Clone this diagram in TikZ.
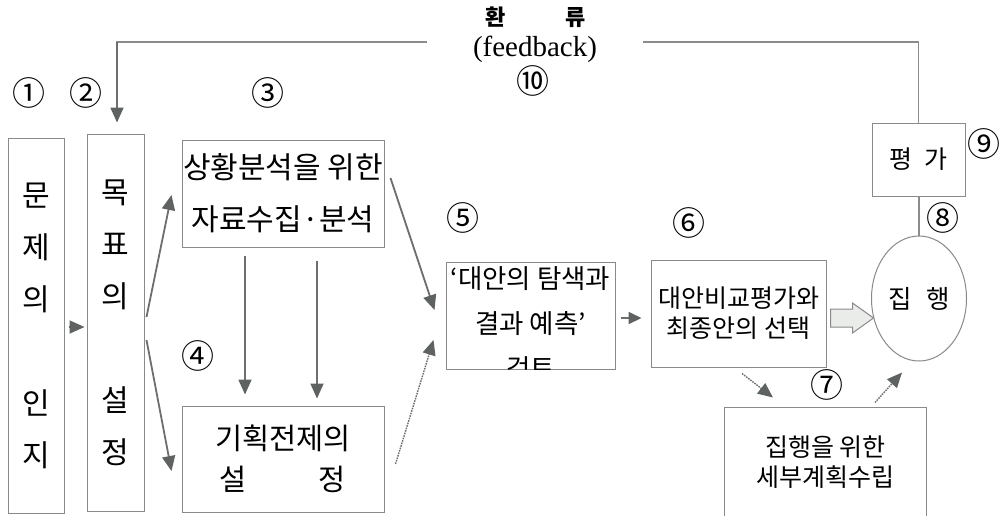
\documentclass[tikz,border=0pt]{standalone}
\usepackage{fontspec}
\setmainfont{Liberation Serif}
\newfontfamily\kr{Noto Sans CJK KR}
\usetikzlibrary{arrows.meta,shapes.geometric,calc}
\definecolor{bordc}{HTML}{8A8A8A}
\definecolor{arrc}{HTML}{6C6F6D}
\definecolor{arrh}{HTML}{5E6260}
\definecolor{fbc}{HTML}{8C8C8C}
\definecolor{blockfill}{HTML}{EAECEA}
\begin{document}
\begin{tikzpicture}[x=1pt,y=-1pt,
  box/.style={draw=bordc,line width=1pt,inner sep=0pt,align=center},
  tip/.style={-{Triangle[length=15pt,width=13pt,color=arrh,fill=arrh]}},
  arr/.style={draw=arrc,line width=1.8pt,tip},
  darr/.style={draw=arrc,line width=1.4pt,dash pattern=on 1.6pt off 1pt,tip},
  fbline/.style={draw=fbc,line width=1.2pt},
  num/.style={font=\kr\fontsize{33}{33}\selectfont,inner sep=0pt},
  big/.style={font=\kr\fontsize{30}{52}\selectfont},
  mid/.style={font=\kr\fontsize{25}{30}\selectfont}]
\useasboundingbox[fill=white] (0,0) rectangle (999,515);

% boxes
\node[box,big,minimum width=56,minimum height=375] (b1) at (36,325.5) {문\\제\\의\\\mbox{}\\인\\지};
\node[box,big,minimum width=57,minimum height=377] (b2) at (115.5,322.5) {목\\표\\의\\\mbox{}\\설\\정};
\node[box,font=\kr\fontsize{30}{52}\selectfont,minimum width=202,minimum height=107] (b3) at (283,193.5) {상황분석을 위한\\자료수집·분석};
\node[box,font=\kr\fontsize{29.5}{41}\selectfont,minimum width=202,minimum height=106] (b4) at (283,459) {기획전제의\\설\hspace{72pt}정};
\node[box,minimum width=169,minimum height=107] (b5) at (530.5,315.5) {};
\begin{scope}
  \clip (b5.south west) rectangle (b5.north east);
  \node[align=center,font=\kr\fontsize{26.5}{45}\selectfont,inner sep=0pt] (t5) at (530.5,323) {‘대안의 탐색과\\결과 예측’\\검토};
\end{scope}
\node[box,mid,minimum width=175,minimum height=107] (b6) at (738.5,313.5) {대안비교평가와\\최종안의 선택};
\node[box,draw=none,mid,minimum width=201,minimum height=108] (b7) at (825.5,462) {집행을 위한\\세부계획수립};
\draw[draw=bordc,line width=1pt] (b7.south west) -- (b7.north west) -- (b7.north east) -- (b7.south east);
\node[ellipse,draw=bordc,line width=1pt,inner sep=0pt,minimum width=95,minimum height=125,font=\kr\fontsize{25.5}{25}\selectfont] (e) at (919,298.5) {집\hspace{14pt}행};
\node[box,font=\kr\fontsize{25}{25}\selectfont,minimum width=93,minimum height=73] (b9) at (918.5,159.5) {평\hspace{12pt}가};

% title
\node[font=\kr\bfseries\fontsize{22}{22}\selectfont,inner sep=0pt] (fbt) at (535.5,17) {환\hspace{60pt}류};
\node[font=\fontsize{29}{29}\selectfont,inner sep=0pt] (fbe) at (535,49) {(feedback)};
\node[num] (n10) at (533,81) {⑩};

% numbers
\node[num] (n1) at (29,93) {①};
\node[num] (n2) at (86,93) {②};
\node[num] (n3) at (268,93) {③};
\node[num] (n4) at (198,356) {④};
\node[num] (n5) at (463,218) {⑤};
\node[num] (n6) at (689,223) {⑥};
\node[num] (n7) at (827,385) {⑦};
\node[num] (n8) at (943,218) {⑧};
\node[num] (n9) at (984,144) {⑨};

% feedback loop
\coordinate (fbR) at (643,42);
\coordinate (fbL) at (427,42);
\draw[fbline] (b9.north) |- (fbR);
\draw[fbline] (fbL) -- (fbL -| b2.north);
\draw[arr] ([xshift=1.5pt]fbL -| b2.north) -- ([xshift=1.5pt,yshift=11pt]b2.north);

% connectors
\draw[arr,shorten <=4pt,shorten >=2pt] ([yshift=-1.5pt]b1.east) -- ([yshift=-1.5pt]b1.east -| b2.west);
\draw[arr] ([xshift=2pt,yshift=5.5pt]b2.east) -- ([xshift=-10pt,yshift=-1.5pt]b3.west);
\draw[arr] ([xshift=2pt,yshift=-17.5pt]b2.east) -- ([xshift=-10pt,yshift=-12pt]b4.west);
\draw[arr] ([xshift=-38pt,yshift=-8pt]b3.south) -- ([xshift=-38pt,yshift=11pt]b4.north);
\draw[arr] ([xshift=34pt,yshift=-13pt]b3.south) -- ([xshift=34pt,yshift=7pt]b4.north);
\draw[arr] ([xshift=6pt,yshift=15.5pt]b3.east) -- ([xshift=-11pt,yshift=5.5pt]b5.west);
\draw[darr] ([xshift=11pt,yshift=-5pt]b4.east) -- ([xshift=-12pt,yshift=-24.5pt]b5.west);
\draw[draw=arrc,line width=1.8pt,-{Triangle[length=13pt,width=12pt,color=arrh,fill=arrh]}] ([xshift=5pt,yshift=-2.5pt]b5.east) -- ([xshift=-9pt,yshift=-4.5pt]b6.west);
\draw[darr] ([xshift=3.5pt,yshift=-6pt]b6.south) -- ([xshift=-52.5pt,yshift=10pt]b7.north);
\draw[darr] ([xshift=49.5pt,yshift=5pt]b7.north) -- ([xshift=-17pt,yshift=-11pt]e.south);
\draw[fbline] (e.north) -- (e.north |- b9.south);

% block arrow
\coordinate (ba) at ($(b6.east)+(4,-4.5)$);
\draw[draw=bordc,line width=1pt,fill=blockfill] (ba) -- ++(22,0) -- ++(0,-6) -- ++(21,15) -- ++(-21,15) -- ++(0,-6) -- ++(-22,0) -- cycle;
\end{tikzpicture}
\end{document}
